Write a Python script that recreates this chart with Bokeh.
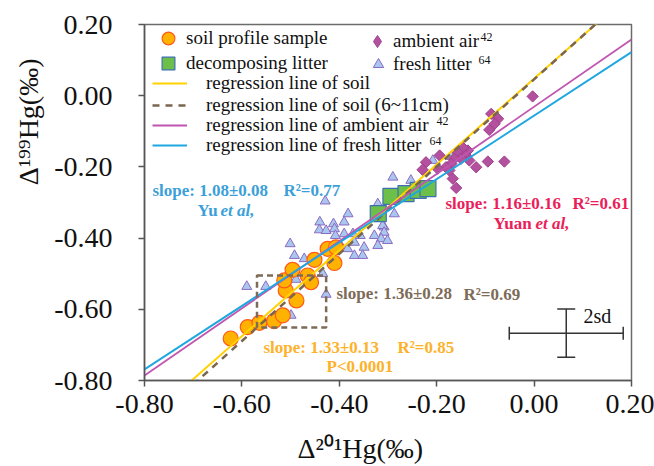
import numpy as np
from bokeh.plotting import figure
from bokeh.models import (ColumnDataSource, Legend, LegendItem, Label, Whisker, Title,
                          TeeHead, Range1d, FixedTicker, NumeralTickFormatter)
from bokeh.embed import file_html
from bokeh.resources import INLINE

# ---------------- data ----------------
soil_x = [-0.623, -0.588, -0.564, -0.534, -0.516, -0.488, -0.510, -0.513, -0.496,
          -0.465, -0.458, -0.451, -0.424, -0.407, -0.410]
soil_y = [-0.682, -0.650, -0.638, -0.633, -0.617, -0.575, -0.547, -0.519, -0.489,
          -0.505, -0.524, -0.461, -0.430, -0.426, -0.470]

litter_x = [-0.320, -0.294, -0.263, -0.238, -0.218]
litter_y = [-0.331, -0.283, -0.275, -0.266, -0.261]

air_x = [-0.003, -0.088, -0.074, -0.081, -0.092, -0.136, -0.146, -0.157, -0.140, -0.133,
         -0.150, -0.164, -0.170, -0.181, -0.194, -0.222, -0.229, -0.198, -0.174, -0.119,
         -0.095, -0.061, -0.167, -0.160]
air_y = [-0.002, -0.051, -0.065, -0.079, -0.096, -0.154, -0.146, -0.159, -0.168, -0.182,
         -0.177, -0.177, -0.191, -0.201, -0.168, -0.187, -0.208, -0.205, -0.210, -0.201,
         -0.185, -0.185, -0.233, -0.259]

fresh_x = [-0.290, -0.253, -0.208, -0.170, -0.429, -0.321, -0.287, -0.308, -0.382, -0.440,
           -0.412, -0.390, -0.441, -0.427, -0.410, -0.408, -0.390, -0.372, -0.357, -0.369,
           -0.328, -0.311, -0.308, -0.314, -0.301, -0.321, -0.349, -0.369, -0.352, -0.397,
           -0.383, -0.501, -0.492, -0.472, -0.590, -0.551, -0.489, -0.427, -0.499, -0.434]
fresh_y = [-0.229, -0.238, -0.182, -0.171, -0.296, -0.304, -0.332, -0.369, -0.332, -0.355,
           -0.360, -0.355, -0.377, -0.379, -0.374, -0.393, -0.388, -0.388, -0.393, -0.412,
           -0.393, -0.365, -0.384, -0.402, -0.407, -0.421, -0.426, -0.449, -0.449, -0.421,
           -0.430, -0.416, -0.449, -0.458, -0.536, -0.536, -0.516, -0.558, -0.617, -0.500]

reg_names = ["regression line of soil", "regression line of soil (6~11cm)",
             "regression line of ambient air", "regression line of fresh litter"]
reg_slope = [1.206, 1.225, 0.944, 0.891]
reg_intercept = [0.048, 0.046, -0.031, -0.056]

box_x = [-0.569, -0.427]
box_y = [-0.651, -0.505]

sd_center = [0.066, -0.667]
sd_half = [0.117, 0.068]

ticks = [-0.8, -0.6, -0.4, -0.2, 0.0, 0.2]

SERIF = "Liberation Serif"

# ---------------- figure ----------------
p = figure(width=654, height=466, x_range=Range1d(-0.8, 0.2), y_range=Range1d(-0.8, 0.2),
           output_backend="svg", toolbar_location=None,
           min_border_left=144, min_border_top=24, min_border_right=23, min_border_bottom=86)
p.grid.visible = False
p.outline_line_color = "#6b6b6b"
p.outline_line_width = 1.5
for ax in (p.xaxis[0], p.yaxis[0]):
    ax.ticker = FixedTicker(ticks=ticks)
    ax.formatter = NumeralTickFormatter(format="0.00")
    ax.axis_line_color = "#555555"
    ax.axis_line_width = 1.5
    ax.major_tick_line_color = "#555555"
    ax.major_tick_line_width = 1.5
    ax.major_tick_out = 6
    ax.major_tick_in = 0
    ax.minor_tick_line_color = None
    ax.major_label_text_font = SERIF
    ax.major_label_text_font_size = "28px"
    ax.major_label_text_color = "#111111"
p.yaxis.major_label_standoff = 26
p.xaxis.major_label_standoff = 8

# axis titles
p.add_layout(Title(text=" ", text_font_size="1px", standoff=12), "below")
p.add_layout(Title(text="\u0394\u00b2\u2070\u00b9Hg(\u2030)", align="left", offset=153,
                   standoff=0, text_font=SERIF, text_font_size="28px",
                   text_font_style="normal", text_color="#111111"), "below")
p.add_layout(Title(text="\u0394\u00b9\u2079\u2079Hg(\u2030)", align="right", offset=34,
                   standoff=15, text_font=SERIF, text_font_size="28px",
                   text_font_style="normal", text_color="#111111"), "left")

# ---------------- marks ----------------
r_fresh = p.scatter(fresh_x, fresh_y, marker="triangle", size=10,
                    fill_color="#a9c7ee", line_color="#8c6bc2", line_width=1)
r_air = p.scatter(air_x, air_y, marker="square", angle=np.pi / 4, size=8,
                  fill_color="#b4519f", line_color="#a03f8d", line_width=1)
r_air_key = p.scatter(air_x, air_y, marker="diamond", size=10, visible=False,
                      fill_color="#b4519f", line_color="#a03f8d", line_width=1)
r_lit = p.scatter(litter_x, litter_y, marker="square", size=16,
                  fill_color="#6cc04a", line_color="#3f6fb3", line_width=1.2)
r_soil = p.scatter(soil_x, soil_y, marker="circle", size=15,
                   fill_color="#ffb300", line_color="#ff5a1a", line_width=1.2)

xr = np.array([-0.8, 0.2])
reg_colors = ["#ffd200", "#7a6650", "#c055b0", "#1fa7e0"]
reg_dash = ["solid", "7 6", "solid", "solid"]
reg_width = [2, 2.5, 1.8, 2]
reg_r = []
for m, b, c, d, w in zip(reg_slope, reg_intercept, reg_colors, reg_dash, reg_width):
    reg_r.append(p.line(xr, m * xr + b, line_color=c, line_dash=d, line_width=w))

p.quad(left=[box_x[0]], right=[box_x[1]], bottom=[box_y[0]], top=[box_y[1]],
       fill_color=None, line_color="#7d6b57", line_dash="6 4", line_width=2.5)

# 2sd cross
hs = ColumnDataSource(dict(base=[sd_center[1]], lower=[sd_center[0] - sd_half[0]],
                           upper=[sd_center[0] + sd_half[0]]))
vs = ColumnDataSource(dict(base=[sd_center[0]], lower=[sd_center[1] - sd_half[1]],
                           upper=[sd_center[1] + sd_half[1]]))
p.add_layout(Whisker(source=hs, base="base", lower="lower", upper="upper", dimension="width",
                     line_color="#333333", line_width=1.5,
                     lower_head=TeeHead(size=13, line_color="#333333", line_width=1.5),
                     upper_head=TeeHead(size=13, line_color="#333333", line_width=1.5)))
p.add_layout(Whisker(source=vs, base="base", lower="lower", upper="upper", dimension="height",
                     line_color="#333333", line_width=1.5,
                     lower_head=TeeHead(size=18, line_color="#333333", line_width=1.5),
                     upper_head=TeeHead(size=18, line_color="#333333", line_width=1.5)))


# ---------------- legends ----------------
def add_legend(renderer, label, loc, gw, gh, standoff):
    lg = Legend(items=[LegendItem(label=label, renderers=[renderer])], location=loc,
                glyph_width=gw, glyph_height=gh, label_height=gh, label_standoff=standoff,
                padding=0, margin=0, spacing=0, border_line_color=None,
                background_fill_alpha=0, label_text_font=SERIF,
                label_text_font_size="19px", label_text_color="#111111")
    p.add_layout(lg)


add_legend(r_soil, "soil profile sample", (8, 326), 32, 32, 2)
add_legend(r_lit, "decomposing litter", (8, 301), 32, 32, 2)
add_legend(r_air_key, "ambient air", (218, 324), 30, 30, 1)
add_legend(r_fresh, "fresh litter", (221, 303), 26, 26, 2)
leg_y = [286, 264, 244, 224]
for r, name, ly in zip(reg_r, reg_names, leg_y):
    add_legend(r, name, (8, ly), 35, 20, 19)


def lab(text, x, y, size, color="#111111", style="normal", baseline="middle"):
    p.add_layout(Label(x=x, y=y, x_units="screen", y_units="screen", text=text,
                       text_font=SERIF, text_font_size=size, text_font_style=style,
                       text_color=color, text_baseline=baseline, text_align="left"))


# superscripts in legend
lab("42", 336, 344, "12px")
lab("64", 334, 321, "12px")
lab("42", 292, 260, "12px")
lab("64", 285, 240, "12px")

# annotations
BLUE, RED, BROWN, ORANGE = "#3d9fd8", "#e91e5a", "#7d6b57", "#fdb22b"
lab("slope: 1.08\u00b10.08", 8, 190, "17px", BLUE, "bold")
lab("R\u00b2=0.77", 139, 190, "17px", BLUE, "bold")
lab("Yu", 53, 170, "17px", BLUE, "bold")
lab("et al,", 76, 170, "17px", BLUE, "bold italic")

lab("slope: 1.16\u00b10.16", 301, 177, "17px", RED, "bold")
lab("R\u00b2=0.61", 428, 177, "17px", RED, "bold")
lab("Yuan", 349, 157, "17px", RED, "bold")
lab("et al,", 391, 157, "17px", RED, "bold italic")

lab("slope: 1.36\u00b10.28", 192, 87, "17px", BROWN, "bold")
lab("R\u00b2=0.69", 319, 86, "17px", BROWN, "bold")

lab("slope: 1.33\u00b10.13", 119, 33, "17px", ORANGE, "bold")
lab("R\u00b2=0.85", 253, 33, "17px", ORANGE, "bold")
lab("P<0.0001", 182, 14, "17px", ORANGE, "bold")

lab("2sd", 439, 65, "20px", "#111111", baseline="alphabetic")

open("out.html", "w").write(file_html(p, INLINE))
